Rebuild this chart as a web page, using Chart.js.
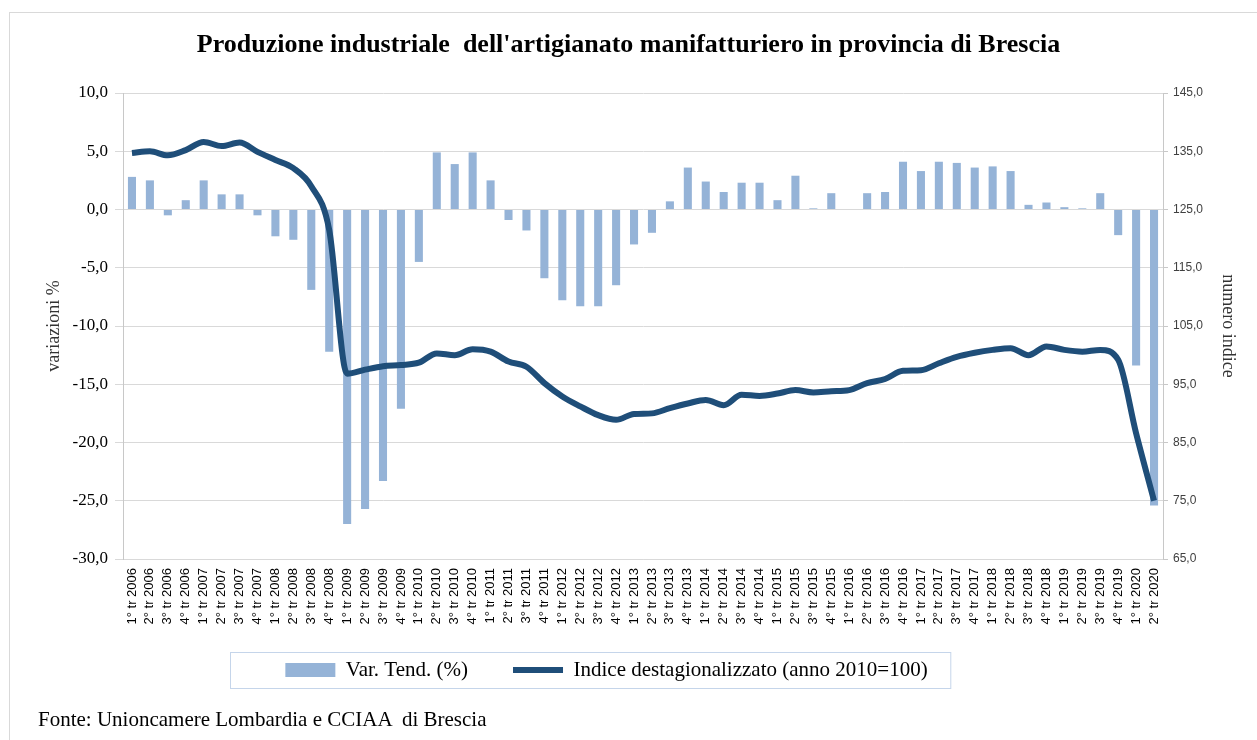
<!DOCTYPE html>
<html>
<head>
<meta charset="utf-8">
<script src="https://cdn.jsdelivr.net/npm/chart.js@4"></script>
<style>
  body { margin: 0; background: #fff; }
  #wrap { position: relative; width: 1257px; height: 740px; overflow: hidden; }
  #frame { position: absolute; left: 9px; top: 12px; right: -2px; bottom: -2px; border-left: 1px solid #d9d9d9; border-top: 1px solid #d9d9d9; }
  #myChart { position: absolute; left: 0; top: 0; }
  #fonte { position: absolute; left: 38px; top: 707px; font-family: "Liberation Serif", serif; font-size: 21px; color: #000; white-space: pre; }
</style>
</head>
<body>
<div id="wrap">
  <div id="frame"></div>
  <canvas id="myChart" width="1257" height="740"></canvas>
  <div id="fonte">Fonte: Unioncamere Lombardia e CCIAA  di Brescia</div>
</div>
<script>
const trimestri = [
  "1° tr 2006", "2° tr 2006", "3° tr 2006", "4° tr 2006",
  "1° tr 2007", "2° tr 2007", "3° tr 2007", "4° tr 2007",
  "1° tr 2008", "2° tr 2008", "3° tr 2008", "4° tr 2008",
  "1° tr 2009", "2° tr 2009", "3° tr 2009", "4° tr 2009",
  "1° tr 2010", "2° tr 2010", "3° tr 2010", "4° tr 2010",
  "1° tr 2011", "2° tr 2011", "3° tr 2011", "4° tr 2011",
  "1° tr 2012", "2° tr 2012", "3° tr 2012", "4° tr 2012",
  "1° tr 2013", "2° tr 2013", "3° tr 2013", "4° tr 2013",
  "1° tr 2014", "2° tr 2014", "3° tr 2014", "4° tr 2014",
  "1° tr 2015", "2° tr 2015", "3° tr 2015", "4° tr 2015",
  "1° tr 2016", "2° tr 2016", "3° tr 2016", "4° tr 2016",
  "1° tr 2017", "2° tr 2017", "3° tr 2017", "4° tr 2017",
  "1° tr 2018", "2° tr 2018", "3° tr 2018", "4° tr 2018",
  "1° tr 2019", "2° tr 2019", "3° tr 2019", "4° tr 2019",
  "1° tr 2020", "2° tr 2020"
];

// variazione tendenziale (%)
const varTend = [
  2.8, 2.5, -0.5, 0.8,
  2.5, 1.3, 1.3, -0.5,
  -2.3, -2.6, -6.9, -12.2,
  -27.0, -25.7, -23.3, -17.1,
  -4.5, 4.9, 3.9, 4.9,
  2.5, -0.9, -1.8, -5.9,
  -7.8, -8.3, -8.3, -6.5,
  -3.0, -2.0, 0.7, 3.6,
  2.4, 1.5, 2.3, 2.3,
  0.8, 2.9, 0.1, 1.4,
  0.0, 1.4, 1.5, 4.1,
  3.3, 4.1, 4.0, 3.6,
  3.7, 3.3, 0.4, 0.6,
  0.2, 0.1, 1.4, -2.2,
  -13.4, -25.4
];

// indice destagionalizzato (anno 2010=100)
const indice = [
  134.7, 135.0, 134.3, 135.2,
  136.6, 135.9, 136.5, 134.9,
  133.5, 132.1, 129.0, 121.5,
  96.8, 97.5, 98.1, 98.3,
  98.7, 100.3, 100.0, 101.0,
  100.6, 98.9, 98.0, 95.2,
  92.9, 91.2, 89.7, 88.9,
  89.9, 90.0, 90.9, 91.7,
  92.3, 91.4, 93.2, 93.0,
  93.4, 94.0, 93.6, 93.8,
  94.0, 95.2, 95.9, 97.3,
  97.4, 98.6, 99.7, 100.4,
  100.9, 101.2, 100.0, 101.5,
  100.9, 100.6, 100.9, 99.2,
  86.6, 75.0
];

const fmt = v => v.toFixed(1).replace('.', ',');
const serif = "'Liberation Serif', 'Times New Roman', serif";
const sans = "'Liberation Sans', Arial, sans-serif";

// legenda spostata come nell'originale, con il suo bordo
const legendBox = {
  id: 'legendBox',
  afterLayout(chart) {
    const l = chart.legend;
    l.left -= 22; l.right -= 22;
    l.top -= 30.5; l.bottom -= 30.5;
  },
  afterDraw(chart) {
    const l = chart.legend;
    const p = l.options.labels.padding;
    const xs = (l.left + p + l.right - l.lineWidths[0]) / 2;
    const cy = l.top + p + 10.5;
    const ctx = chart.ctx;
    ctx.save();
    ctx.strokeStyle = '#c5d5ea';
    ctx.lineWidth = 1;
    ctx.strokeRect(Math.round(xs - 55) + 0.5, Math.round(cy - 18) + 0.5, l.lineWidths[0] - p + 78, 36);
    ctx.restore();
  }
};

new Chart(document.getElementById("myChart"), {
  data: {
    labels: trimestri,
    datasets: [{
      type: 'bar',
      label: "Var. Tend. (%)",
      data: varTend,
      yAxisID: 'y',
      backgroundColor: '#95b3d7',
      borderWidth: 0,
      barPercentage: 0.45,
      categoryPercentage: 1,
      pointStyle: 'rect',
      order: 1
    }, {
      type: 'line',
      label: "Indice destagionalizzato (anno 2010=100)",
      data: indice,
      yAxisID: 'y2',
      borderColor: '#1f4e79',
      backgroundColor: '#1f4e79',
      borderWidth: 6,
      pointRadius: 0,
      cubicInterpolationMode: 'monotone',
      pointStyle: 'line',
      order: 0
    }]
  },
  options: {
    responsive: false,
    animation: false,
    devicePixelRatio: 1,
    layout: { padding: { left: 0, right: 0, top: 0, bottom: 19 } },
    plugins: {
      title: {
        display: true,
        text: "Produzione industriale  dell'artigianato manifatturiero in provincia di Brescia",
        color: '#000',
        font: { family: serif, size: 26, weight: 'bold' },
        padding: { top: 29.4, bottom: 32.4 }
      },
      legend: {
        position: 'bottom',
        labels: {
          usePointStyle: true,
          pointStyleWidth: 50,
          boxHeight: 14,
          padding: 45,
          color: '#000',
          font: { family: serif, size: 21 },
          sort: (a, b) => a.datasetIndex - b.datasetIndex
        }
      },
      tooltip: { enabled: false }
    },
    scales: {
      x: {
        offset: true,
        grid: { display: false, drawTicks: false },
        border: { color: '#d9d9d9' },
        ticks: {
          autoSkip: false,
          maxRotation: 90,
          minRotation: 90,
          padding: 9,
          color: '#000',
          font: { family: sans, size: 13 }
        },
        afterFit(scale) { scale.height = 86; }
      },
      y: {
        position: 'left',
        min: -30,
        max: 10,
        grid: { color: '#d9d9d9', tickLength: 8 },
        border: { color: '#c8c8c8' },
        ticks: {
          stepSize: 5,
          padding: 7,
          color: '#000',
          font: { family: serif, size: 17 },
          callback: v => fmt(v)
        },
        title: {
          display: true,
          text: 'variazioni %',
          color: '#333',
          font: { family: serif, size: 18 },
          padding: { top: 43, bottom: 0 }
        },
        afterFit(scale) { scale.width = 123; }
      },
      y2: {
        position: 'right',
        min: 65,
        max: 145,
        grid: { drawOnChartArea: false, color: '#c8c8c8', tickLength: 5 },
        border: { color: '#c8c8c8' },
        ticks: {
          stepSize: 10,
          padding: 5,
          color: '#404040',
          font: { family: sans, size: 12 },
          callback: v => fmt(v)
        },
        title: {
          display: true,
          text: 'numero indice',
          color: '#333',
          font: { family: serif, size: 18 },
          padding: { top: 18, bottom: 0 }
        },
        afterFit(scale) { scale.width = 94; }
      }
    }
  },
  plugins: [legendBox]
});
</script>
</body>
</html>
